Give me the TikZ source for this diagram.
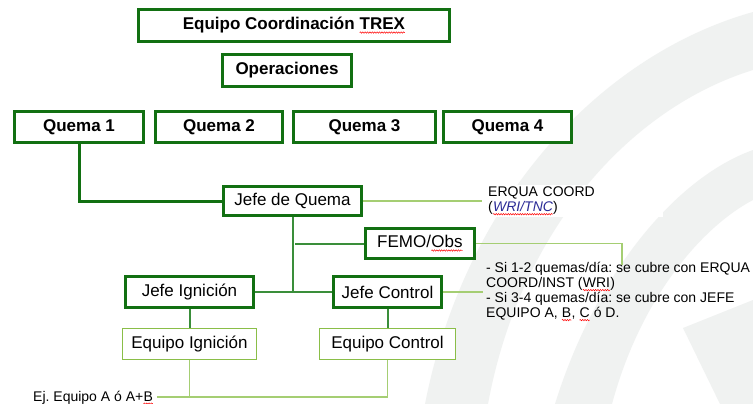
\documentclass[tikz,border=0pt]{standalone}
\usepackage{fontspec}
\setmainfont{Liberation Sans}
\usepackage{tikz}
\usetikzlibrary{decorations.pathmorphing}
\frenchspacing

\definecolor{trexgreen}{RGB}{18,112,18}
\definecolor{midgreen}{RGB}{58,142,58}
\definecolor{paleline}{RGB}{165,206,115}
\definecolor{teamgreen}{RGB}{138,190,72}
\definecolor{swoosh}{RGB}{240,242,241}
\definecolor{linkblue}{RGB}{42,42,150}

\newcommand\spellwave[1]{\tikz[baseline=(sw.base),x=1pt,y=1pt]{%
  \node[inner sep=0pt, outer sep=0pt, draw=none, fill=none, minimum size=0pt] (sw) {#1};
  \draw[red, line width=0.5pt, decorate, decoration={snake, amplitude=0.7pt, segment length=2.4pt}]
    ([yshift=-2.6pt]sw.base west) -- ([yshift=-2.6pt]sw.base east);}}

\tikzset{
  unitbox/.style={draw=trexgreen, line width=3pt, fill=white, inner sep=0pt,
    font=\fontsize{17}{20}\selectfont\bfseries},
  chief/.style={draw=trexgreen, line width=3pt, fill=white, inner sep=0pt,
    font=\fontsize{17}{20}\selectfont},
  team/.style={draw=teamgreen, line width=1.8pt, fill=white, inner sep=0pt,
    font=\fontsize{17}{20}\selectfont},
  trunk/.style={draw=trexgreen, line width=3pt},
  branch/.style={draw=midgreen, line width=2pt},
  note/.style={draw=paleline, line width=1.4pt},
  remark/.style={inner sep=0pt, align=left, font=\fontsize{14}{15}\selectfont}
}

\begin{document}
\begin{tikzpicture}[x=1pt,y=-1pt]
\useasboundingbox (0,0) rectangle (753,404);
\fill[white] (0,0) rectangle (753,404);

\fill[swoosh] (425,404) .. controls (465,200) and (600,55) .. (753,12)
  -- (753,70) .. controls (630,108) and (520,230) .. (488,404) -- cycle;
\fill[swoosh] (555,404) .. controls (595,275) and (675,178) .. (753,150)
  -- (753,200) .. controls (700,228) and (640,300) .. (612,404) -- cycle;
\fill[swoosh] (683,328) -- (753,300) -- (753,404) -- (720,404) -- cycle;

\node[unitbox, minimum width=311, minimum height=32] (trex) at (294,25.5) {Equipo Coordinación \spellwave{TREX}};
\node[unitbox, minimum width=129, minimum height=32] (oper) at (287,70.5) {Operaciones};

\node[unitbox, minimum width=129, minimum height=31] (q1) at (79,127) {Quema 1};
\node[unitbox, minimum width=127, minimum height=31] (q2) at (219,127) {Quema 2};
\node[unitbox, minimum width=142, minimum height=31] (q3) at (364.5,127) {Quema 3};
\node[unitbox, minimum width=128, minimum height=31] (q4) at (507.5,127) {Quema 4};

\node[chief, minimum width=138, minimum height=29] (jq) at (292.5,201) {Jefe de Quema};
\node[chief, minimum width=109, minimum height=30] (femo) at (420,243.5) {FEMO/\spellwave{Obs}};
\node[chief, minimum width=128, minimum height=31] (ji) at (189.5,292) {Jefe Ignición};
\node[chief, minimum width=108, minimum height=31] (jc) at (387.5,292) {Jefe Control};
\node[team, minimum width=134, minimum height=31] (ei) at (189.5,344) {Equipo Ignición};
\node[team, minimum width=136, minimum height=31] (ec) at (387.5,344) {Equipo Control};

\node[remark, fill=white, anchor=west, inner xsep=6pt, text width=169, minimum height=32] (erqua) at (482,201)
  {ERQUA COORD\\(\textcolor{linkblue}{\textit{\spellwave{WRI/TNC}}})};
\node[remark, anchor=north west] (cover) at (486,262)
  {- Si 1-2 quemas/día: se cubre con ERQUA\\COORD/INST (\spellwave{WRI})\\- Si 3-4 quemas/día: se cubre con JEFE\\EQUIPO A, \spellwave{B}, \spellwave{C} ó D.};
\node[remark, anchor=base west] (ej) at (33,401) {Ej. Equipo A ó A+\spellwave{B}};

\coordinate (femotap) at (295,243.5);
\coordinate (femoend) at (622,265);
\coordinate (jcend) at (483,292);
\coordinate (ejend) at (157,397);

\draw[trunk] (q1.south) |- (jq.west);
\draw[branch] (jq.south) -- (jq.south |- ji.east);
\draw[branch] (ji.east) -- (jc.west);
\draw[branch] (femotap) -- (femo.west);
\draw[branch] (ji.south) -- (ei.north);
\draw[branch] (jc.south) -- (ec.north);

\draw[note] (jq.east) -- (erqua.west);
\draw[note] (femo.east) -| (femoend);
\draw[note] (jc.east) -- (jcend);
\draw[note] (ei.south) -- (ei.south |- ejend);
\draw[note] (ejend) -| (ec.south);
\end{tikzpicture}
\end{document}
